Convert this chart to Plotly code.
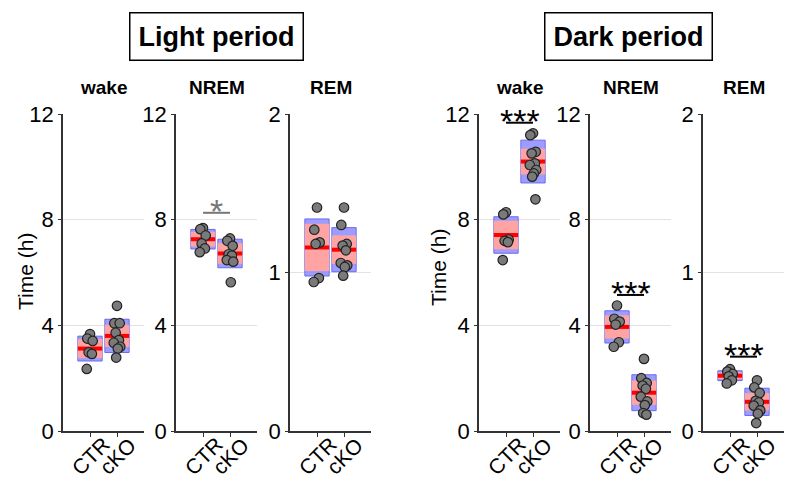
import plotly.graph_objects as go

# ---------------- data ----------------
panel_titles = ["wake", "NREM", "REM", "wake", "NREM", "REM"]
period_titles = ["Light period", "Dark period"]
groups = ["CTR", "cKO"]
y_title = "Time (h)"
y_max = [12, 12, 2, 12, 12, 2]
y_ticks = [[0, 4, 8, 12], [0, 4, 8, 12], [0, 1, 2], [0, 4, 8, 12], [0, 4, 8, 12], [0, 1, 2]]

light_wake_ctr = [3.67, 3.50, 3.41, 2.98, 2.92, 2.35]
light_wake_cko = [4.74, 4.08, 4.08, 3.72, 3.44, 3.34, 3.19, 3.12, 2.78]
light_nrem_ctr = [7.68, 7.64, 7.40, 7.10, 6.91, 6.77]
light_nrem_cko = [7.29, 7.20, 7.01, 6.69, 6.64, 6.47, 6.41, 5.63]
light_rem_ctr = [1.41, 1.27, 1.19, 1.18, 0.965, 0.94]
light_rem_cko = [1.41, 1.30, 1.18, 1.17, 1.14, 1.06, 1.045, 1.035, 0.98]
dark_wake_ctr = [8.28, 8.20, 7.25, 7.20, 7.15, 6.47]
dark_wake_cko = [11.27, 11.20, 10.57, 10.51, 10.13, 10.07, 9.88, 9.75, 9.63, 8.77]
dark_nrem_ctr = [4.75, 4.25, 4.14, 4.03, 3.36, 3.19]
dark_nrem_cko = [2.73, 2.00, 1.82, 1.72, 1.60, 1.30, 1.12, 0.98, 0.68, 0.62]
dark_rem_ctr = [0.39, 0.375, 0.36, 0.345, 0.32, 0.30]
dark_rem_cko = [0.32, 0.275, 0.24, 0.19, 0.18, 0.16, 0.13, 0.11, 0.05]

points_ctr = [light_wake_ctr, light_nrem_ctr, light_rem_ctr, dark_wake_ctr, dark_nrem_ctr, dark_rem_ctr]
points_cko = [light_wake_cko, light_nrem_cko, light_rem_cko, dark_wake_cko, dark_nrem_cko, dark_rem_cko]

mean_ctr = [3.12, 7.26, 1.158, 7.42, 3.94, 0.349]
mean_cko = [3.60, 6.72, 1.144, 10.20, 1.45, 0.184]
sd_ctr = [0.47, 0.37, 0.180, 0.69, 0.61, 0.031]
sd_cko = [0.63, 0.54, 0.139, 0.81, 0.68, 0.086]
ci_ctr = [0.36, 0.28, 0.149, 0.54, 0.44, 0.021]
ci_cko = [0.42, 0.39, 0.090, 0.49, 0.46, 0.055]

sig_panels = [1, 3, 4, 5]
sig_levels = [8.26, 11.67, 5.15, 0.469]
sig_labels = ["*", "***", "***", "***"]
sig_colors = ["#777777", "#000000", "#000000", "#000000"]

# ---------------- layout geometry ----------------
W, H = 800, 490
panel_left = [63, 176, 290, 479, 590, 703]
panel_width = 81
plot_top, plot_bottom = 114, 431
jitter = [0.0, -0.1, 0.1, -0.05, 0.07, -0.12, 0.12, 0.03, -0.03, 0.09]

FONT = "Liberation Sans, Arial, sans-serif"
BOX_W = 0.9
BLUE_FILL = "rgba(140,140,255,0.85)"
BLUE_LINE = "#6a6af0"
PINK_FILL = "#ffa3a3"
RED = "#ff0000"

fig = go.Figure()
layout = dict(
    width=W, height=H, margin=dict(l=0, r=0, t=0, b=0, autoexpand=False),
    paper_bgcolor="white", plot_bgcolor="white",
    showlegend=False, barmode="overlay",
    font=dict(family=FONT, color="#000000"),
)
annotations = []
shapes = []

for i in range(6):
    sfx = "" if i == 0 else str(i + 1)
    xa, ya = "x" + sfx, "y" + sfx
    x0 = panel_left[i] / W
    x1 = (panel_left[i] + panel_width) / W
    layout["xaxis" + sfx] = dict(
        domain=[x0, x1], anchor=ya, range=[0, 3], showgrid=False, zeroline=False,
        tickvals=[1, 2], showticklabels=False, automargin=False,
        ticks="outside", ticklen=4, tickcolor="#333", showline=True, linecolor="#333",
        linewidth=1.5,
    )
    layout["yaxis" + sfx] = dict(
        domain=[(H - plot_bottom) / H, (H - plot_top) / H], anchor=xa, automargin=False,
        range=[0, y_max[i]], tickvals=y_ticks[i], showgrid=True, gridcolor="#e2e2e2",
        gridwidth=1.2, zeroline=False, ticks="outside", ticklen=3, tickcolor="#333",
        showline=True, linecolor="#333", linewidth=1.5,
        tickfont=dict(size=22, family=FONT, color="#000"),
    )

    for g, (mean, sd, ci, pts) in enumerate([
        (mean_ctr[i], sd_ctr[i], ci_ctr[i], points_ctr[i]),
        (mean_cko[i], sd_cko[i], ci_cko[i], points_cko[i]),
    ]):
        xc = g + 1
        fig.add_trace(go.Bar(x=[xc], y=[2 * sd], base=[mean - sd], width=BOX_W,
                             marker=dict(color=BLUE_FILL, line=dict(color=BLUE_LINE, width=1)),
                             xaxis=xa, yaxis=ya, hoverinfo="skip"))
        fig.add_trace(go.Bar(x=[xc], y=[2 * ci], base=[mean - ci], width=BOX_W,
                             marker=dict(color=PINK_FILL, line=dict(width=0)),
                             xaxis=xa, yaxis=ya, hoverinfo="skip"))
        fig.add_trace(go.Scatter(x=[xc - BOX_W / 2, xc + BOX_W / 2], y=[mean, mean], mode="lines",
                                 line=dict(color=RED, width=4), xaxis=xa, yaxis=ya, hoverinfo="skip"))
        fig.add_trace(go.Scatter(x=[xc + jitter[k % len(jitter)] for k in range(len(pts))], y=pts,
                                 mode="markers",
                                 marker=dict(size=9.5, color="#7a7a7a", line=dict(color="#222", width=1.2)),
                                 xaxis=xa, yaxis=ya, hoverinfo="skip"))
        # rotated category label centred under its tick
        annotations.append(dict(text=groups[g], x=xc, y=(H - 456) / H, xref=xa, yref="paper",
                                textangle=-45, showarrow=False, xanchor="center", yanchor="middle",
                                font=dict(size=21, family=FONT, color="#000")))

    annotations.append(dict(text="<b>%s</b>" % panel_titles[i], x=(panel_left[i] + panel_width / 2) / W,
                            y=(H - 87) / H, xref="paper", yref="paper", showarrow=False,
                            font=dict(size=19, family=FONT), xanchor="center", yanchor="middle"))

# y-axis titles (first panel of each period)
for cx, cy in [(25, 272), (438, 268)]:
    annotations.append(dict(text=y_title, x=cx / W, y=(H - cy) / H, xref="paper", yref="paper",
                            textangle=-90, showarrow=False, xanchor="center", yanchor="middle",
                            font=dict(size=21, family=FONT, color="#000")))

for j, p in enumerate(sig_panels):
    sfx = "" if p == 0 else str(p + 1)
    shapes.append(dict(type="line", xref="x" + sfx, yref="y" + sfx, x0=1, x1=2,
                       y0=sig_levels[j], y1=sig_levels[j], line=dict(color=sig_colors[j], width=2)))
    annotations.append(dict(text="%s" % sig_labels[j], x=1.5, y=sig_levels[j],
                            xref="x" + sfx, yref="y" + sfx, showarrow=False, yanchor="middle",
                            yshift=2, font=dict(size=34, family=FONT, color=sig_colors[j])))

for k, t in enumerate(period_titles):
    cx = [216, 628][k]
    annotations.append(dict(text="<b>%s</b>" % t, x=cx / W, y=(H - 36) / H, xref="paper", yref="paper",
                            showarrow=False, font=dict(size=27, family=FONT),
                            bordercolor="#000", borderwidth=1.5, borderpad=8,
                            xanchor="center", yanchor="middle"))

layout["annotations"] = annotations
layout["shapes"] = shapes
fig.update_layout(**layout)
fig.write_html("out.html", config={"displayModeBar": False},
               post_script="document.body.style.margin='0';document.body.style.padding='0';")
